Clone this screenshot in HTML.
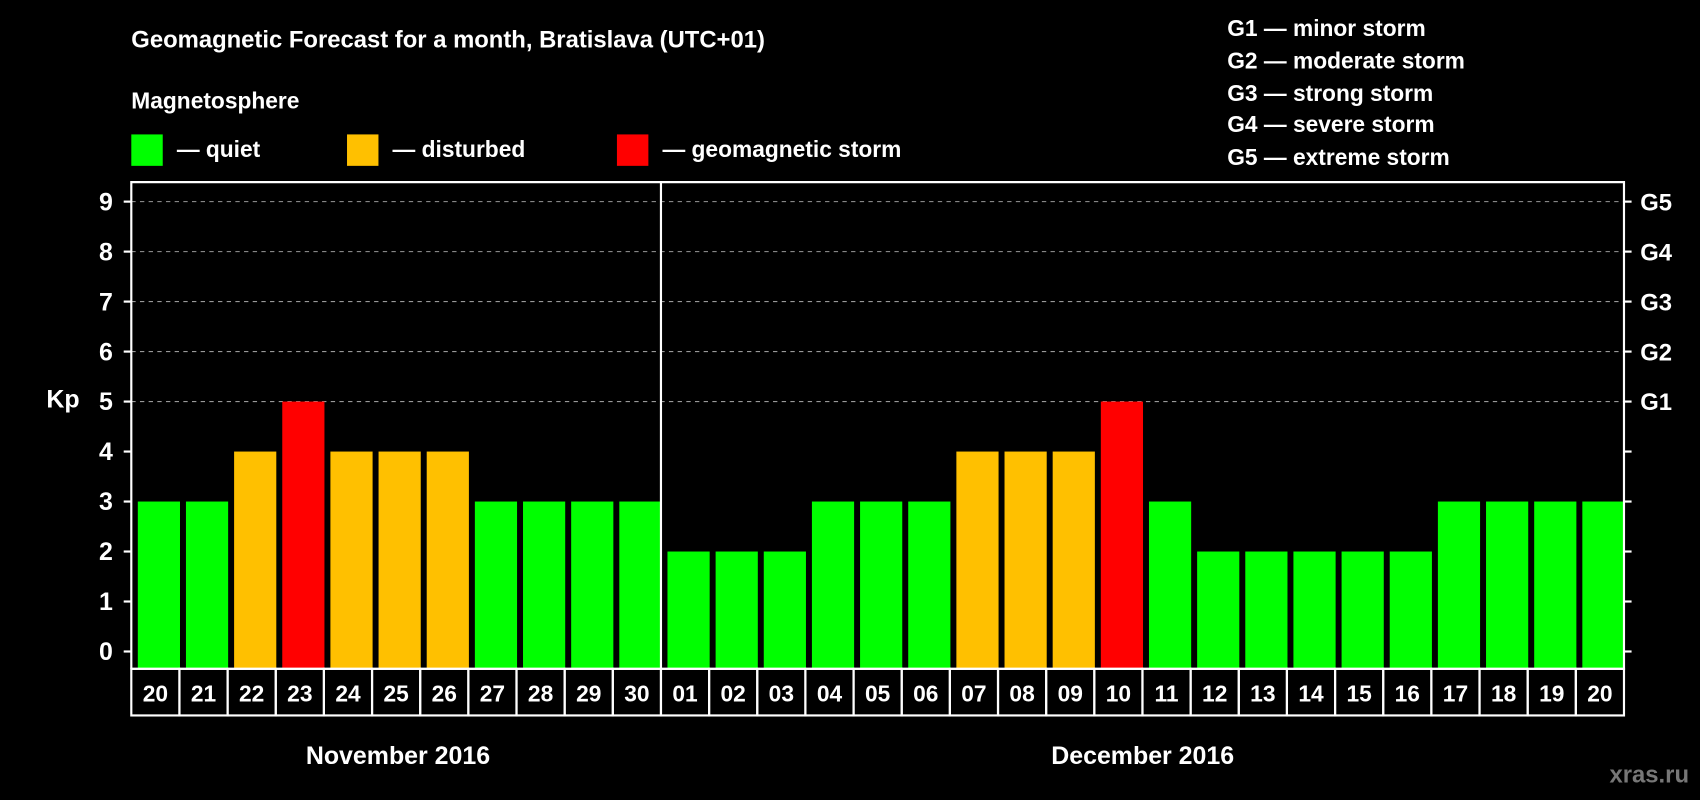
<!DOCTYPE html>
<html><head><meta charset="utf-8"><style>
html,body{margin:0;padding:0;background:#000;width:1700px;height:800px;overflow:hidden}
svg{display:block}
text{font-family:"Liberation Sans",sans-serif;font-weight:bold;fill:#fff}
</style></head><body>
<svg id="chart" width="1700" height="800" viewBox="0 0 1568 738" xmlns="http://www.w3.org/2000/svg">
<rect width="1568" height="738" fill="#000"/>
<text x="121" y="44" font-size="22">Geomagnetic Forecast for a month, Bratislava (UTC+01)</text>
<text x="121" y="100" font-size="21">Magnetosphere</text>
<g><rect x="121" y="124" width="29" height="29" fill="#00ff00"/><text x="163" y="145" font-size="21">— quiet</text></g>
<g><rect x="320" y="124" width="29" height="29" fill="#ffc000"/><text x="362" y="145" font-size="21">— disturbed</text></g>
<g><rect x="569" y="124" width="29" height="29" fill="#ff0000"/><text x="611" y="145" font-size="21">— geomagnetic storm</text></g>
<g font-size="21">
<text x="1132" y="33">G1 — minor storm</text>
<text x="1132" y="63">G2 — moderate storm</text>
<text x="1132" y="93">G3 — strong storm</text>
<text x="1132" y="122">G4 — severe storm</text>
<text x="1132" y="152">G5 — extreme storm</text>
</g>
<g id="grid"></g>
<g id="bars"></g>
<g id="axes"></g>
<text x="58" y="376" font-size="23" text-anchor="middle">Kp</text>
<text x="367" y="705" font-size="23" text-anchor="middle">November 2016</text>
<text x="1054" y="705" font-size="23" text-anchor="middle">December 2016</text>
<text x="1558" y="722" font-size="22" text-anchor="end" style="fill:#777">xras.ru</text>
</svg>
<script>
const days = ["20","21","22","23","24","25","26","27","28","29","30","01","02","03","04","05","06","07","08","09","10","11","12","13","14","15","16","17","18","19","20"];
const kpValues = [3,3,4,5,4,4,4,3,3,3,3,2,2,2,3,3,3,4,4,4,5,3,2,2,2,2,2,3,3,3,3];
const yTicks = [0,1,2,3,4,5,6,7,8,9];
const gLabels = ["G1","G2","G3","G4","G5"];
const gLevels = [5,6,7,8,9];
const monthSplitIndex = 11;

const NS="http://www.w3.org/2000/svg";
const L=121,R=1498,T=168,B=617;
const slot=(R-L)/days.length;
const y=v=>601-v*(601-186)/9;
const x=i=>L+i*slot;
function mk(tag,attrs,parent){const e=document.createElementNS(NS,tag);for(const k in attrs)e.setAttribute(k,attrs[k]);parent.appendChild(e);return e;}
const grid=document.getElementById('grid'),bars=document.getElementById('bars'),axes=document.getElementById('axes');
gLevels.forEach((lv,i)=>{
  const l=mk('line',{x1:L,x2:R,y1:y(lv),y2:y(lv),stroke:'#999','stroke-width':1,'stroke-dasharray':'4,4'},grid);
  
  
  const t=mk('text',{x:1513,y:y(lv)+8,'font-size':22},axes);t.textContent=gLabels[i];
  
  
});
kpValues.forEach((v,i)=>{
  const c=v>=5?'#ff0000':(v>=4?'#ffc000':'#00ff00');
  const r=mk('rect',{x:x(i)+6,y:y(v),width:slot-5.5,height:B-y(v),fill:c},bars);
  
  
  const b=mk('rect',{x:x(i),y:B,width:slot,height:43,fill:'none',stroke:'#fff','stroke-width':2},axes);
  
  
  const t=mk('text',{x:x(i)+slot/2,y:647,'font-size':21,'text-anchor':'middle'},axes);t.textContent=days[i];
  
  
});
const f=mk('path',{d:`M${L},${B}V${T}H${R}V${B}H${L}`,fill:'none',stroke:'#fff','stroke-width':2},axes);


const s=mk('line',{x1:x(monthSplitIndex),x2:x(monthSplitIndex),y1:T,y2:B,stroke:'#fff','stroke-width':2},axes);


yTicks.forEach(v=>{
  mk('line',{x1:L-7,x2:L,y1:y(v),y2:y(v),stroke:'#fff','stroke-width':2},axes);
  mk('line',{x1:R,x2:R+7,y1:y(v),y2:y(v),stroke:'#fff','stroke-width':2},axes);
  const t=mk('text',{x:104,y:y(v)+8,'font-size':23,'text-anchor':'end'},axes);t.textContent=v;
  
  
});
</script>
</body></html>
